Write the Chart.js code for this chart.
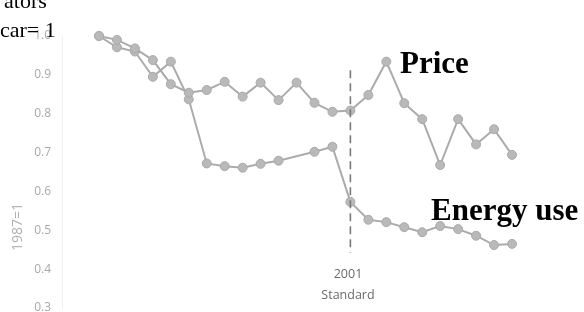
<!DOCTYPE html>
<html>
<head>
<meta charset="utf-8">
<script src="https://cdn.jsdelivr.net/npm/chart.js@4.4.1/dist/chart.umd.min.js"></script>
<style>
  html, body { margin: 0; padding: 0; background: #ffffff; }
  #wrap { position: relative; width: 584px; height: 312px; overflow: hidden; background: #fff; }
  #c { position: absolute; left: 0; top: 0; width: 584px; height: 312px; }
  .lbl { position: absolute; white-space: nowrap; }
  .serif { font-family: "Liberation Serif", "Times New Roman", serif; color: #000; line-height: 1; }
  .big { font-size: 31px; font-weight: bold; }
  .sans { font-family: "Open Sans", sans-serif; color: #6a6a6a; font-size: 12.5px; line-height: 14px; text-align: center; width: 80px; }
  .ytitle { font-family: "Open Sans", sans-serif; color: #b0b0b0; font-size: 14px; line-height: 14px; transform-origin: 0 0; transform: rotate(-90deg); }
</style>
</head>
<body>
<div id="wrap">
  <canvas id="c" width="584" height="312"></canvas>
  <div class="lbl serif" style="left:4px; top:-10px; font-size:22px;">ators</div>
  <div class="lbl serif" style="left:0px; top:19px; font-size:22px;">car= 1</div>
  <div class="lbl serif big" style="left:400px; top:47px;">Price</div>
  <div class="lbl serif big" style="left:431px; top:194px;">Energy use</div>
  <div class="lbl sans" style="left:308px; top:267px;">2001</div>
  <div class="lbl sans" style="left:308px; top:288px;">Standard</div>
  <div class="lbl ytitle" style="left:10px; top:251px;">1987=1</div>
</div>
<script>
const years = [1987, 1988, 1989, 1990, 1991, 1992, 1993, 1994, 1995, 1996, 1997, 1998,
               1999, 2000, 2001, 2002, 2003, 2004, 2005, 2006, 2007, 2008, 2009, 2010];
const priceIndex = [1.0, 0.990, 0.968, 0.938, 0.876, 0.854, 0.861, 0.882, 0.844, 0.880, 0.835, 0.880,
                    0.828, 0.805, 0.808, 0.848, 0.934, 0.827, 0.786, 0.668, 0.786, 0.721, 0.760, 0.694];
const energyUseIndex = [1.0, 0.971, 0.960, 0.895, 0.934, 0.837, 0.672, 0.665, 0.661, 0.671, 0.679, null,
                        0.702, 0.715, 0.573, 0.527, 0.521, 0.508, 0.495, 0.511, 0.503, 0.486, 0.462, 0.465];
const yTickValues = [0.3, 0.4, 0.5, 0.6, 0.7, 0.8, 0.9, 1.0];
const standardYear = 2001;
const standardLineSpan = [0.912, 0.442];

const toPoints = arr => years.map((yr, i) => ({ x: yr, y: arr[i] }));

const dashPlugin = {
  id: 'standardLine',
  afterDatasetsDraw(chart) {
    const { ctx, scales } = chart;
    const x = scales.x.getPixelForValue(standardYear);
    ctx.save();
    ctx.strokeStyle = '#7a7a7a';
    ctx.lineWidth = 1.6;
    ctx.setLineDash([8, 5]);
    ctx.beginPath();
    ctx.moveTo(x, scales.y.getPixelForValue(standardLineSpan[0]));
    ctx.lineTo(x, scales.y.getPixelForValue(standardLineSpan[1]));
    ctx.stroke();
    ctx.restore();
  }
};

const common = {
  borderColor: '#ababab',
  borderWidth: 2,
  pointRadius: 4.5,
  pointBackgroundColor: '#b9b9b9',
  pointBorderColor: '#a9a9a9',
  pointBorderWidth: 1,
  tension: 0,
  spanGaps: true,
  fill: false,
  clip: false
};

new Chart(document.getElementById('c'), {
  type: 'line',
  data: {
    datasets: [
      Object.assign({ label: 'Price', data: toPoints(priceIndex) }, common),
      Object.assign({ label: 'Energy use', data: toPoints(energyUseIndex) }, common)
    ]
  },
  options: {
    responsive: false,
    maintainAspectRatio: false,
    animation: false,
    layout: { autoPadding: false, padding: { top: 36, bottom: 4, left: 0, right: 14 } },
    plugins: { legend: { display: false }, tooltip: { enabled: false } },
    scales: {
      x: {
        type: 'linear',
        display: false,
        min: 1984.94,
        max: 2013.23
      },
      y: {
        min: 0.3,
        max: 1.0,
        afterFit(s) { s.width = 62; },
        afterBuildTicks(s) { s.ticks = yTickValues.map(v => ({ value: v })); },
        grid: { display: false, drawTicks: true, tickLength: 11 },
        border: { display: true, color: '#f0f0f0', width: 1, dash: [2, 2] },
        ticks: {
          padding: 0,
          color: '#a8a8a8',
          font: { family: 'Open Sans', size: 12, lineHeight: 0.5 },
          callback: v => Number(v).toFixed(1)
        }
      }
    }
  },
  plugins: [dashPlugin]
});
</script>
</body>
</html>
